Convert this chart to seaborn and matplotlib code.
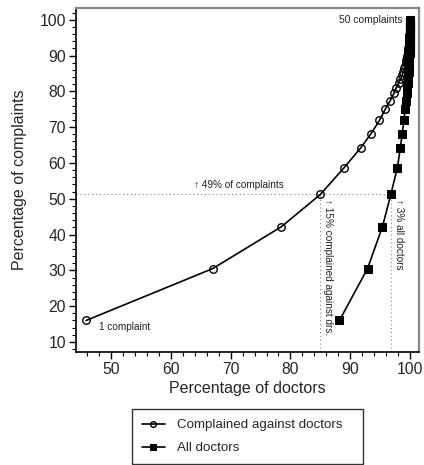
import matplotlib
matplotlib.use("Agg")
import matplotlib.pyplot as plt
import seaborn as sns
import pandas as pd
from matplotlib.ticker import MultipleLocator

# cumulative percentage of complaints (1..50 complaints)
pct_complaints = [16.0, 30.5, 42.2, 51.2, 58.7, 64.3, 68.2, 71.9, 75.1, 77.4,
                  79.4, 81.0, 82.3, 83.4, 84.5, 85.5, 86.4, 87.2, 88.0, 88.7,
                  89.4, 90.0, 90.6, 91.2, 91.7, 92.2, 92.7, 93.2, 93.6, 94.0,
                  94.4, 94.8, 95.2, 95.5, 95.8, 96.1, 96.4, 96.7, 97.0, 97.3,
                  97.5, 97.8, 98.0, 98.3, 98.5, 98.8, 99.1, 99.4, 99.7, 100.0]

# cumulative percentage of doctors complained against
pct_complained_drs = [45.8, 67.0, 78.5, 85.0, 89.0, 91.8, 93.5, 94.9, 95.9, 96.7,
                      97.3, 97.7, 98.1, 98.4, 98.7, 98.9, 99.05, 99.2, 99.3, 99.4,
                      99.48, 99.55, 99.6, 99.65, 99.7, 99.74, 99.77, 99.8, 99.83, 99.85,
                      99.87, 99.89, 99.9, 99.91, 99.92, 99.93, 99.94, 99.95, 99.96, 99.965,
                      99.97, 99.975, 99.98, 99.985, 99.99, 99.992, 99.994, 99.996, 99.998, 100.0]

# cumulative percentage of all doctors
pct_all_drs = [88.2, 92.9, 95.4, 96.8, 97.9, 98.4, 98.7, 99.0, 99.2, 99.33,
               99.43, 99.52, 99.6, 99.66, 99.71, 99.76, 99.8, 99.83, 99.86, 99.88,
               99.9, 99.915, 99.93, 99.94, 99.95, 99.96, 99.967, 99.973, 99.978, 99.982,
               99.985, 99.988, 99.99, 99.992, 99.993, 99.994, 99.995, 99.996, 99.997, 99.9975,
               99.998, 99.9985, 99.999, 99.9992, 99.9994, 99.9996, 99.9997, 99.9998, 99.9999, 100.0]

series_labels = ["Complained against doctors", "All doctors"]
ref_index = 3  # 4 complaints point used for reference lines

sns.set_theme(style="white")
plt.rcParams['font.family'] = ['Liberation Sans', 'DejaVu Sans']

fig = plt.figure(figsize=(4.24, 4.65), dpi=100)
ax = fig.add_axes([0.179, 0.243, 0.809, 0.740])

df1 = pd.DataFrame({"x": pct_complained_drs, "y": pct_complaints})
df2 = pd.DataFrame({"x": pct_all_drs, "y": pct_complaints})

sns.lineplot(data=df1, x="x", y="y", sort=False, estimator=None, ax=ax,
             color="black", lw=1.2, marker="o", markersize=5.4,
             markerfacecolor="none", markeredgecolor="black", markeredgewidth=1.0,
             label=series_labels[0])
sns.lineplot(data=df2, x="x", y="y", sort=False, estimator=None, ax=ax,
             color="black", lw=1.2, marker="s", markersize=5.8,
             markerfacecolor="black", markeredgecolor="black",
             label=series_labels[1])

ax.set_xlim(44.1, 101.5)
ax.set_ylim(7.2, 103.3)

# reference lines
yr = pct_complaints[ref_index]
xc = pct_complained_drs[ref_index]
xa = pct_all_drs[ref_index]
ax.plot([44.1, xa], [yr, yr], ls=(0, (1, 2.5)), color="#888888", lw=0.8, zorder=1)
ax.plot([xc, xc], [7.2, yr], ls=(0, (1, 2.5)), color="#888888", lw=0.8, zorder=1)
ax.plot([xa, xa], [7.2, yr], ls=(0, (1, 2.5)), color="#888888", lw=0.8, zorder=1)

ax.text(63.8, yr + 1.2, "↑ 49% of complaints", fontsize=7.2, ha="left", va="bottom", color="#222222")
ax.text(xc + 0.5, yr - 1.4, "↑ 15% complained against drs.", fontsize=7.2, rotation=-90,
        ha="left", va="top", color="#222222")
ax.text(xa + 0.6, yr - 1.4, "↑ 3% all doctors", fontsize=7.2, rotation=-90,
        ha="left", va="top", color="#222222")
ax.text(48.0, 14.3, "1 complaint", fontsize=7.2, ha="left", va="center", color="#222222")
ax.text(98.8, 100.0, "50 complaints", fontsize=7.4, ha="right", va="center", color="#222222")

ax.set_xlabel("Percentage of doctors", fontsize=11.5, labelpad=3)
ax.set_ylabel("Percentage of complaints", fontsize=11.5, labelpad=9)

ax.xaxis.set_major_locator(MultipleLocator(10))
ax.xaxis.set_minor_locator(MultipleLocator(2))
ax.yaxis.set_major_locator(MultipleLocator(10))
ax.yaxis.set_minor_locator(MultipleLocator(2))
ax.tick_params(which="major", direction="out", length=5, width=1, labelsize=11.3,
               color="black", left=True, bottom=True, pad=2)
ax.tick_params(which="minor", direction="out", length=3, width=0.8,
               color="black", left=True, bottom=True)

for s in ["left", "bottom"]:
    ax.spines[s].set_color("black")
    ax.spines[s].set_linewidth(1.2)
for s in ["top", "right"]:
    ax.spines[s].set_color("#888888")
    ax.spines[s].set_linewidth(1.6)

handles, labels = ax.get_legend_handles_labels()
ax.get_legend().remove()
leg = fig.legend(handles, labels, loc="upper left",
                 bbox_to_anchor=(132 / 424, 0.0, 231 / 424, 1 - 409 / 465),
                 mode="expand", borderaxespad=0, markerscale=0.75,
                 fontsize=9.6, frameon=True, fancybox=False, edgecolor="black",
                 borderpad=0.75, labelspacing=0.8, handlelength=1.7, handletextpad=0.9)
leg.get_frame().set_linewidth(1.0)

fig.savefig("out.png", dpi=100)
